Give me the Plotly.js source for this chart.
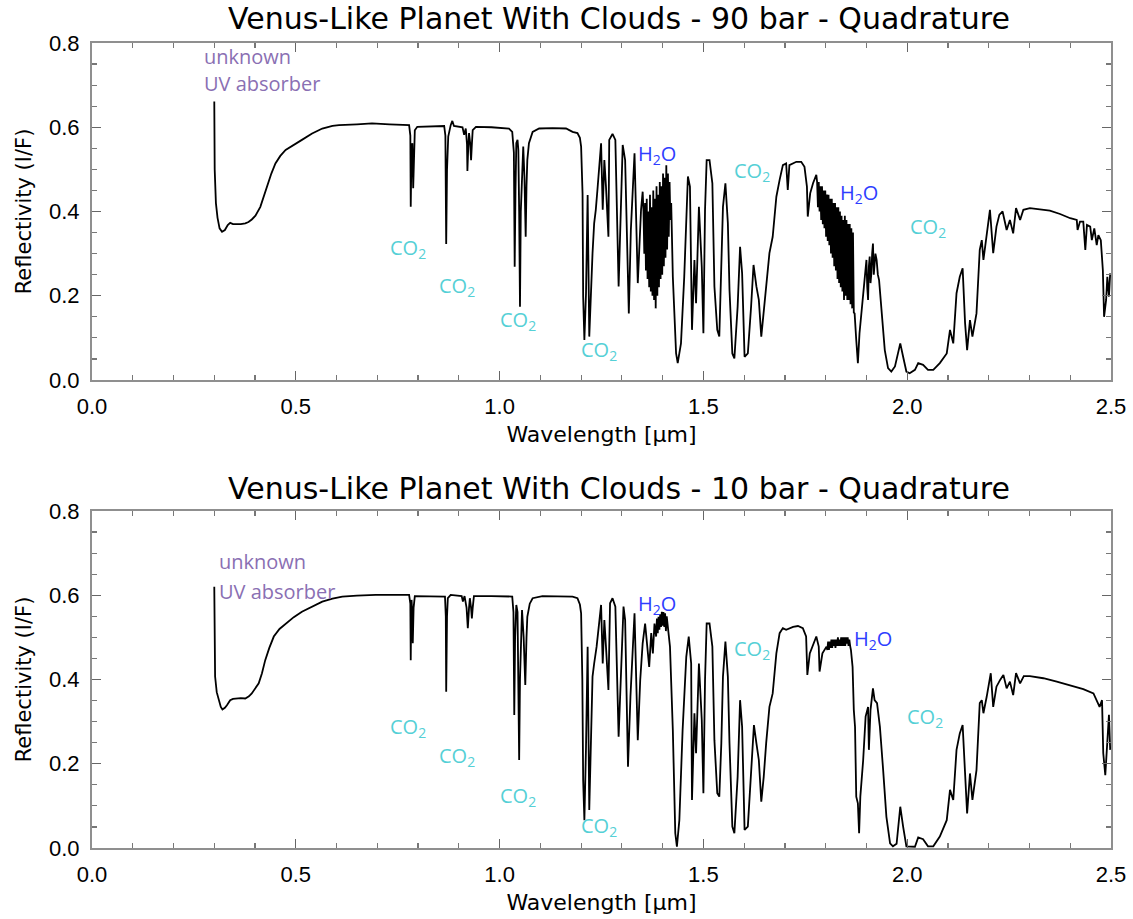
<!DOCTYPE html>
<html>
<head>
<meta charset="utf-8">
<script src="https://cdn.plot.ly/plotly-3.0.1.min.js"></script>
<style>html,body{margin:0;padding:0;background:#fff;}#chart{width:1133px;height:919px;}</style>
</head>
<body>
<div id="chart"></div>
<script>
// ---- Data ----
const panelTitles = ["Venus-Like Planet With Clouds - 90 bar - Quadrature", "Venus-Like Planet With Clouds - 10 bar - Quadrature"];

// 90 bar spectrum: wavelength [um], reflectivity (I/F)
const lam90 = [0.300,0.301,0.304,0.308,0.313,0.319,0.326,0.333,0.339,0.346,0.352,0.365,0.376,0.384,0.392,0.401,0.413,0.421,0.429,0.440,0.450,0.462,0.475,0.495,0.515,0.540,0.565,0.590,0.606,0.650,0.687,0.730,0.778,
0.781,0.782,0.784,0.786,0.788,0.790,0.792,0.798,0.830,0.864,0.867,0.869,0.871,0.874,0.880,0.884,0.888,0.909,0.913,0.917,0.920,0.921,0.923,0.925,0.928,0.930,0.932,0.934,0.942,0.980,1.023,1.031,
1.035,1.037,1.039,1.041,1.044,1.046,1.048,1.050,1.052,1.055,1.058,1.061,1.064,1.066,1.068,1.072,1.081,1.097,1.130,1.163,1.179,1.191,1.197,1.200,1.2035,1.205,1.208,1.212,1.216,1.220,1.224,1.228,
1.232,1.236,1.240,1.245,1.249,1.253,1.257,1.261,1.267,1.269,1.277,1.284,1.292,1.302,1.308,1.317,1.322,1.331,1.339,1.347,1.351,
1.353,1.355,1.357,1.359,1.361,1.363,1.365,1.367,1.369,1.371,1.373,1.375,1.377,1.379,1.381,1.383,1.385,1.387,1.389,1.391,1.393,1.395,1.397,1.399,1.401,1.403,1.405,1.407,1.409,1.411,1.413,1.415,1.417,1.419,1.421,
1.425,1.433,1.437,1.445,1.453,1.462,1.467,1.472,1.478,1.482,1.489,1.496,1.500,1.504,1.508,1.515,1.522,1.527,1.534,1.539,1.544,1.548,1.554,1.560,1.564,1.571,1.576,1.584,1.590,1.595,1.601,1.609,1.617,
1.623,1.630,1.636,1.642,1.648,1.654,1.662,1.670,1.679,1.687,1.695,1.703,1.707,1.711,1.720,1.728,1.740,1.748,1.754,1.756,1.762,1.769,1.777,
1.779,1.781,1.783,1.785,1.787,1.789,1.791,1.793,1.795,1.797,1.799,1.801,1.803,1.805,1.807,1.809,1.811,1.813,1.815,1.817,1.819,1.821,1.823,1.825,1.827,1.829,1.831,1.833,1.835,1.837,1.839,1.841,1.843,1.845,1.847,1.849,1.851,1.853,1.855,1.857,1.859,1.861,1.863,1.865,1.867,1.869,
1.871,1.875,1.879,1.883,1.890,1.896,1.900,1.902,1.904,1.906,1.908,1.910,1.912,1.914,1.916,1.918,1.920,1.922,1.925,1.928,1.931,1.937,1.945,1.953,1.961,1.970,1.978,1.983,1.990,1.998,2.006,2.019,2.027,2.039,2.051,2.064,2.080,2.097,
2.105,2.113,2.121,2.129,2.136,2.142,2.147,2.154,2.160,2.170,2.178,2.183,2.187,2.195,2.203,2.211,2.219,2.226,2.234,2.244,2.252,2.260,2.267,2.277,2.285,2.301,2.326,2.350,2.375,2.400,2.416,2.418,2.424,2.432,2.437,2.441,2.449,2.453,2.459,2.465,2.469,2.475,2.480,2.483,2.488,2.491,2.495,2.498];
const ref90 = [0.661,0.500,0.420,0.385,0.360,0.352,0.356,0.368,0.373,0.370,0.370,0.370,0.372,0.375,0.381,0.390,0.411,0.435,0.459,0.490,0.514,0.532,0.546,0.559,0.570,0.585,0.597,0.603,0.605,0.607,0.609,0.607,0.605,
0.580,0.411,0.550,0.562,0.455,0.570,0.593,0.601,0.602,0.603,0.580,0.323,0.500,0.578,0.605,0.615,0.603,0.600,0.582,0.597,0.560,0.496,0.550,0.586,0.560,0.522,0.560,0.593,0.601,0.600,0.597,0.589,
0.540,0.269,0.450,0.562,0.570,0.546,0.400,0.174,0.400,0.483,0.554,0.480,0.340,0.460,0.522,0.562,0.589,0.597,0.598,0.597,0.589,0.586,0.575,0.554,0.443,0.198,0.095,0.206,0.439,0.103,0.222,0.301,
0.372,0.404,0.451,0.506,0.562,0.404,0.522,0.459,0.340,0.570,0.584,0.570,0.222,0.558,0.522,0.158,0.356,0.538,0.230,0.404,0.447,
0.400,0.300,0.420,0.260,0.430,0.240,0.400,0.220,0.440,0.210,0.410,0.200,0.450,0.190,0.430,0.170,0.460,0.200,0.440,0.220,0.470,0.240,0.460,0.250,0.490,0.270,0.480,0.290,0.510,0.310,0.490,0.340,0.470,0.380,0.420,
0.245,0.063,0.040,0.087,0.245,0.483,0.459,0.119,0.285,0.182,0.411,0.269,0.111,0.404,0.522,0.522,0.467,0.222,0.119,0.103,0.253,0.411,0.467,0.372,0.214,0.063,0.051,0.174,0.316,0.253,0.055,0.063,0.174,
0.273,0.222,0.190,0.103,0.158,0.222,0.301,0.340,0.435,0.475,0.510,0.514,0.451,0.510,0.514,0.518,0.518,0.506,0.459,0.388,0.443,0.467,0.487,
0.470,0.410,0.470,0.400,0.460,0.380,0.460,0.370,0.450,0.360,0.450,0.340,0.440,0.330,0.440,0.320,0.430,0.300,0.430,0.290,0.420,0.270,0.420,0.260,0.410,0.240,0.410,0.230,0.400,0.220,0.390,0.210,0.380,0.190,0.390,0.200,0.380,0.190,0.370,0.190,0.370,0.180,0.360,0.170,0.350,0.160,
0.158,0.095,0.040,0.111,0.190,0.253,0.285,0.220,0.190,0.270,0.293,0.230,0.253,0.300,0.324,0.250,0.269,0.300,0.285,0.250,0.237,0.158,0.071,0.028,0.020,0.032,0.071,0.087,0.055,0.020,0.016,0.024,0.040,0.036,0.024,0.024,0.040,0.063,
0.119,0.087,0.206,0.245,0.265,0.135,0.071,0.142,0.103,0.158,0.309,0.332,0.285,0.340,0.404,0.301,0.364,0.392,0.400,0.356,0.380,0.348,0.408,0.380,0.404,0.408,0.405,0.402,0.394,0.384,0.380,0.356,0.376,0.376,0.309,0.368,0.364,0.332,0.360,0.320,0.344,0.332,0.261,0.150,0.190,0.245,0.198,0.253];

// 10 bar spectrum
const lam10 = [0.300,0.301,0.302,0.306,0.311,0.316,0.320,0.326,0.331,0.339,0.346,0.352,0.365,0.376,0.385,0.392,0.401,0.409,0.417,0.425,0.435,0.446,0.460,0.475,0.495,0.515,0.540,0.565,0.590,0.614,0.650,0.696,0.740,0.778,
0.781,0.782,0.783,0.784,0.786,0.787,0.789,0.792,0.830,0.866,0.868,0.869,0.871,0.873,0.880,0.907,0.910,0.914,0.919,0.922,0.925,0.927,0.930,0.932,0.934,0.937,0.980,1.031,
1.034,1.036,1.038,1.041,1.044,1.046,1.048,1.050,1.055,1.059,1.063,1.066,1.068,1.074,1.081,1.105,1.140,1.179,1.191,1.197,1.200,1.203,1.205,1.208,1.212,1.216,1.220,1.224,1.228,1.232,1.238,1.245,1.249,
1.253,1.257,1.261,1.267,1.271,1.277,1.284,1.292,1.304,1.308,1.315,1.321,1.331,1.339,1.345,1.351,1.357,1.363,1.367,1.372,1.376,1.380,1.384,1.386,1.388,1.390,1.392,1.394,1.396,1.398,1.400,1.402,1.404,1.406,1.408,1.410,1.412,1.414,1.418,
1.425,1.431,1.435,1.441,1.449,1.458,1.464,1.470,1.472,1.478,1.482,1.489,1.496,1.500,1.504,1.508,1.515,1.522,1.527,1.534,1.539,1.544,1.548,1.554,1.560,1.564,1.571,1.576,1.584,1.590,1.595,1.601,1.609,1.617,
1.624,1.630,1.636,1.642,1.648,1.654,1.662,1.670,1.679,1.687,1.695,1.703,1.711,1.720,1.732,1.744,1.752,1.755,1.761,1.767,1.777,1.783,1.785,1.792,1.802,
1.804,1.806,1.808,1.810,1.812,1.814,1.816,1.818,1.820,1.822,1.824,1.826,1.828,1.830,1.832,1.834,1.836,1.838,1.840,1.842,1.844,1.846,1.848,1.850,1.852,1.854,1.856,1.858,1.860,1.862,
1.866,1.869,1.872,1.875,1.879,1.882,1.885,1.892,1.898,1.904,1.906,1.910,1.916,1.920,1.926,1.933,1.941,1.949,1.958,1.965,1.974,1.978,1.983,1.990,1.998,2.019,2.027,2.039,2.051,2.064,2.080,2.097,
2.105,2.113,2.121,2.129,2.136,2.142,2.147,2.154,2.160,2.170,2.178,2.183,2.187,2.195,2.205,2.211,2.219,2.228,2.236,2.244,2.252,2.260,2.267,2.277,2.286,2.301,2.334,2.367,2.400,2.432,2.457,2.465,2.472,2.478,2.481,2.486,2.491,2.495,2.498];
const ref10 = [0.620,0.480,0.407,0.370,0.351,0.335,0.329,0.333,0.339,0.351,0.354,0.355,0.356,0.355,0.360,0.367,0.380,0.391,0.415,0.446,0.475,0.502,0.520,0.533,0.548,0.561,0.574,0.585,0.592,0.597,0.599,0.601,0.601,0.601,
0.580,0.446,0.550,0.589,0.550,0.486,0.570,0.598,0.598,0.597,0.550,0.371,0.550,0.593,0.601,0.598,0.585,0.598,0.570,0.522,0.570,0.593,0.570,0.545,0.570,0.598,0.598,0.597,
0.560,0.316,0.500,0.577,0.560,0.400,0.209,0.400,0.565,0.500,0.387,0.500,0.549,0.580,0.593,0.598,0.598,0.597,0.593,0.578,0.557,0.399,0.161,0.066,0.240,0.478,0.090,0.272,0.407,0.438,0.478,0.541,0.577,
0.438,0.541,0.478,0.375,0.581,0.593,0.573,0.264,0.573,0.541,0.193,0.359,0.557,0.256,0.399,0.486,0.533,0.478,0.430,0.510,0.462,0.533,0.502,0.545,0.510,0.549,0.518,0.555,0.525,0.561,0.528,0.560,0.525,0.557,0.515,0.550,0.533,0.520,0.478,
0.280,0.035,0.003,0.066,0.280,0.454,0.502,0.438,0.114,0.320,0.225,0.438,0.304,0.130,0.399,0.533,0.533,0.478,0.256,0.130,0.122,0.249,0.407,0.490,0.407,0.249,0.051,0.035,0.169,0.351,0.288,0.043,0.051,0.169,
0.292,0.249,0.209,0.110,0.169,0.249,0.335,0.367,0.462,0.510,0.522,0.518,0.522,0.525,0.527,0.522,0.502,0.411,0.462,0.478,0.502,0.478,0.419,0.462,0.478,
0.470,0.490,0.470,0.490,0.475,0.495,0.475,0.495,0.480,0.495,0.475,0.495,0.480,0.500,0.480,0.495,0.480,0.500,0.480,0.500,0.480,0.500,0.480,0.500,0.485,0.500,0.480,0.495,0.480,0.470,
0.430,0.328,0.288,0.122,0.106,0.035,0.122,0.209,0.312,0.335,0.233,0.328,0.379,0.351,0.344,0.288,0.185,0.074,0.011,0.004,0.010,0.045,0.098,0.051,0.004,0.003,0.025,0.021,0.004,0.004,0.027,0.066,
0.138,0.114,0.233,0.272,0.292,0.177,0.082,0.177,0.114,0.185,0.344,0.351,0.320,0.359,0.415,0.335,0.383,0.399,0.411,0.379,0.395,0.363,0.415,0.391,0.408,0.408,0.403,0.395,0.385,0.377,0.367,0.351,0.335,0.351,0.225,0.173,0.272,0.316,0.233];

// Feature labels (text + where it sits in data units)
const featTop = [
  {t:"unknown", x:0.269, y:0.767, c:"uv"}, {t:"UV absorber", x:0.269, y:0.703, c:"uv"},
  {t:"CO<sub>2</sub>", x:0.726, y:0.311, c:"co2"}, {t:"CO<sub>2</sub>", x:0.847, y:0.221, c:"co2"},
  {t:"CO<sub>2</sub>", x:0.996, y:0.142, c:"co2"}, {t:"CO<sub>2</sub>", x:1.195, y:0.069, c:"co2"},
  {t:"H<sub>2</sub>O", x:1.335, y:0.536, c:"h2o"}, {t:"CO<sub>2</sub>", x:1.569, y:0.496, c:"co2"},
  {t:"H<sub>2</sub>O", x:1.829, y:0.442, c:"h2o"}, {t:"CO<sub>2</sub>", x:2.001, y:0.361, c:"co2"}];
const featBot = [
  {t:"unknown", x:0.306, y:0.681, c:"uv"}, {t:"UV absorber", x:0.306, y:0.610, c:"uv"},
  {t:"CO<sub>2</sub>", x:0.726, y:0.287, c:"co2"}, {t:"CO<sub>2</sub>", x:0.847, y:0.218, c:"co2"},
  {t:"CO<sub>2</sub>", x:0.996, y:0.123, c:"co2"}, {t:"CO<sub>2</sub>", x:1.195, y:0.052, c:"co2"},
  {t:"H<sub>2</sub>O", x:1.335, y:0.577, c:"h2o"}, {t:"CO<sub>2</sub>", x:1.569, y:0.472, c:"co2"},
  {t:"H<sub>2</sub>O", x:1.864, y:0.494, c:"h2o"}, {t:"CO<sub>2</sub>", x:1.994, y:0.309, c:"co2"}];

const colors = {uv:"#8a6fb3", co2:"#55d0d6", h2o:"#2e3dff"};
const FONT = "Liberation Sans, Arial, Helvetica, sans-serif";
const TFONT = "DejaVu Sans, Liberation Sans, sans-serif";
const LFONT = "Open Sans, Noto Sans, sans-serif";

const traces = [
  {x:lam90, y:ref90, xaxis:"x", yaxis:"y", type:"scatter", mode:"lines", line:{color:"#000", width:1.8}, hoverinfo:"x+y"},
  {x:lam10, y:ref10, xaxis:"x2", yaxis:"y2", type:"scatter", mode:"lines", line:{color:"#000", width:1.8}, hoverinfo:"x+y"}
];

function xax(anchor){
  return {anchor:anchor, domain:[0,1], range:[0,2.5], dtick:0.5, tick0:0, tickformat:".1f",
    showline:true, linecolor:"#8f8f8f", linewidth:2, mirror:"ticks",
    ticks:"inside", ticklen:9, tickwidth:1.3, tickcolor:"#666",
    minor:{dtick:0.1, ticks:"inside", ticklen:5, tickwidth:1.2, tickcolor:"#777"},
    showgrid:false, zeroline:false, ticklabelstandoff:6,
    tickfont:{family:FONT, size:22, color:"#000"},
    title:{text:"Wavelength [μm]", font:{family:TFONT, size:22, color:"#000"}, standoff:8}};
}
function yax(anchor, dom){
  return {anchor:anchor, domain:dom, range:[0,0.8], dtick:0.2, tick0:0, tickformat:".1f",
    showline:true, linecolor:"#8f8f8f", linewidth:2, mirror:"ticks",
    ticks:"inside", ticklen:9, tickwidth:1.3, tickcolor:"#666",
    minor:{dtick:0.05, ticks:"inside", ticklen:5, tickwidth:1.2, tickcolor:"#777"},
    showgrid:false, zeroline:false, ticklabelstandoff:6,
    tickfont:{family:FONT, size:22, color:"#000"},
    title:{text:"Reflectivity (I/F)", font:{family:TFONT, size:21, color:"#000"}, standoff:12}};
}

const annotations = [];
function addFeat(list, xr, yr){
  list.forEach(f => annotations.push({text:f.t, x:f.x, y:f.y, xref:xr, yref:yr, xanchor:"left", yanchor:"middle",
    showarrow:false, font:{family:LFONT, size:20, color:colors[f.c]}}));
}
addFeat(featTop, "x", "y");
addFeat(featBot, "x2", "y2");
annotations.push({text:panelTitles[0], xref:"paper", yref:"paper", x:0.517, y:1.0304, xanchor:"center", yanchor:"middle", showarrow:false, font:{family:TFONT, size:30, color:"#000"}});
annotations.push({text:panelTitles[1], xref:"paper", yref:"paper", x:0.517, y:0.4472, xanchor:"center", yanchor:"middle", showarrow:false, font:{family:TFONT, size:30, color:"#000"}});

const layout = {
  width:1133, height:919, margin:{l:92, r:22, t:43, b:71},
  paper_bgcolor:"#fff", plot_bgcolor:"#fff", showlegend:false,
  xaxis:xax("y"), yaxis:yax("x",[0.5814,1]),
  xaxis2:xax("y2"), yaxis2:yax("x2",[0,0.4186]),
  annotations:annotations
};

Plotly.newPlot("chart", traces, layout, {displayModeBar:false, staticPlot:true});
</script>
</body>
</html>
